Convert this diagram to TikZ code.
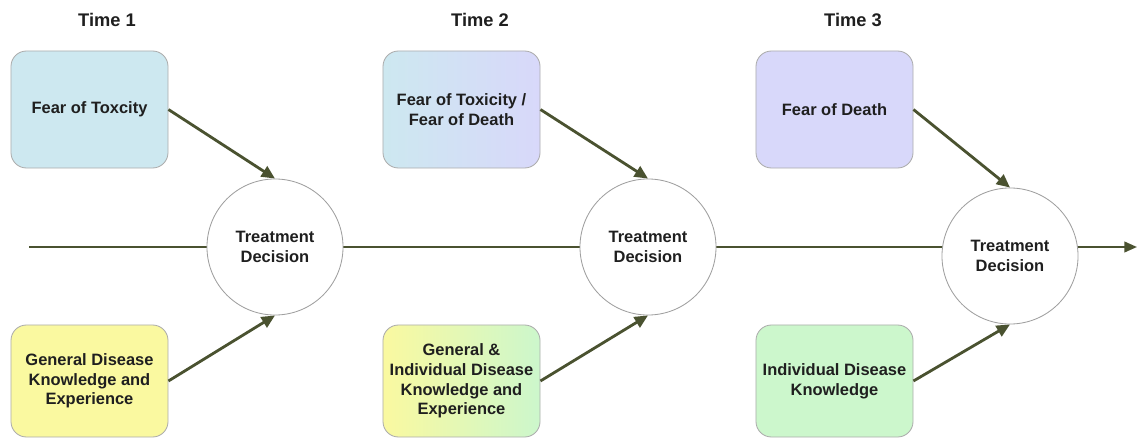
\documentclass[tikz,border=0pt]{standalone}
\usepackage{fontspec}
\setmainfont{Liberation Sans}
\usetikzlibrary{arrows.meta}

\begin{document}
\begin{tikzpicture}[
  x=0.025cm,
  y=-0.025cm,
  factor/.style={rounded corners=11pt, draw=gray!65, line width=0.6pt, minimum width=3.925cm, minimum height=2.925cm, align=center, text=black!88, font=\fontsize{11.7}{14}\selectfont\bfseries,},
  decision/.style={circle, draw=gray!75, line width=0.6pt, fill=white, minimum size=3.4cm, inner sep=0pt, align=center, text=black!88, font=\fontsize{11.7}{14}\selectfont\bfseries,},
  timelabel/.style={text=black!88, font=\fontsize{13}{15}\selectfont\bfseries,},
  influence/.style={draw=arrowOlive, line width=2pt, -{Triangle[length=9.5pt,width=8.5pt]},},
  timeline/.style={draw=arrowOlive, line width=1.6pt, -{Triangle[length=9pt,width=7.5pt]},}
]

% One fill per factor, blended where two factors share a box
\definecolor{fearTox}{RGB}{205,232,240}
\definecolor{fearDeath}{RGB}{216,216,250}
\definecolor{knowGen}{RGB}{250,249,160}
\definecolor{knowInd}{RGB}{204,247,204}
\definecolor{arrowOlive}{RGB}{74,82,48}

\useasboundingbox (0,0) rectangle (1137,440);

% Time labels
\node[timelabel] (t1) at (107,20) {Time 1};
\node[timelabel] (t2) at (480,20) {Time 2};
\node[timelabel] (t3) at (853,20) {Time 3};

% Timeline, drawn first so the decisions sit on top of it
\coordinate (start) at (29,247);
\coordinate (finish) at (1137,247);
\draw[timeline] (start) -- (finish);

% Decisions
\node[decision] (d1) at (275,247) {Treatment\\Decision};
\node[decision] (d2) at (648,247) {Treatment\\Decision};
\node[decision] (d3) at (1010,256) {Treatment\\Decision};

% Fears (top row)
\node[factor, fill=fearTox] (f1) at (89.5,109.5) {Fear of Toxcity};
\node[factor, left color=fearTox, right color=fearDeath] (f2) at (461.5,109.5) {Fear of Toxicity /\\Fear of Death};
\node[factor, fill=fearDeath] (f3) at (834.5,109.5) {Fear of Death};

% Knowledge (bottom row)
\node[factor, minimum height=2.8cm, fill=knowGen] (k1) at (89.5,381) {General Disease\\Knowledge and\\Experience};
\node[factor, minimum height=2.8cm, left color=knowGen, right color=knowInd] (k2) at (461.5,381) {General \&\\Individual Disease\\Knowledge and\\Experience};
\node[factor, minimum height=2.8cm, fill=knowInd] (k3) at (834.5,381) {Individual Disease\\Knowledge};

% Influences on each decision
\foreach \i in {1,2,3} {
  \draw[influence] (f\i.east) -- (d\i.north);
  \draw[influence] (k\i.east) -- (d\i.south);
}

\end{tikzpicture}
\end{document}
